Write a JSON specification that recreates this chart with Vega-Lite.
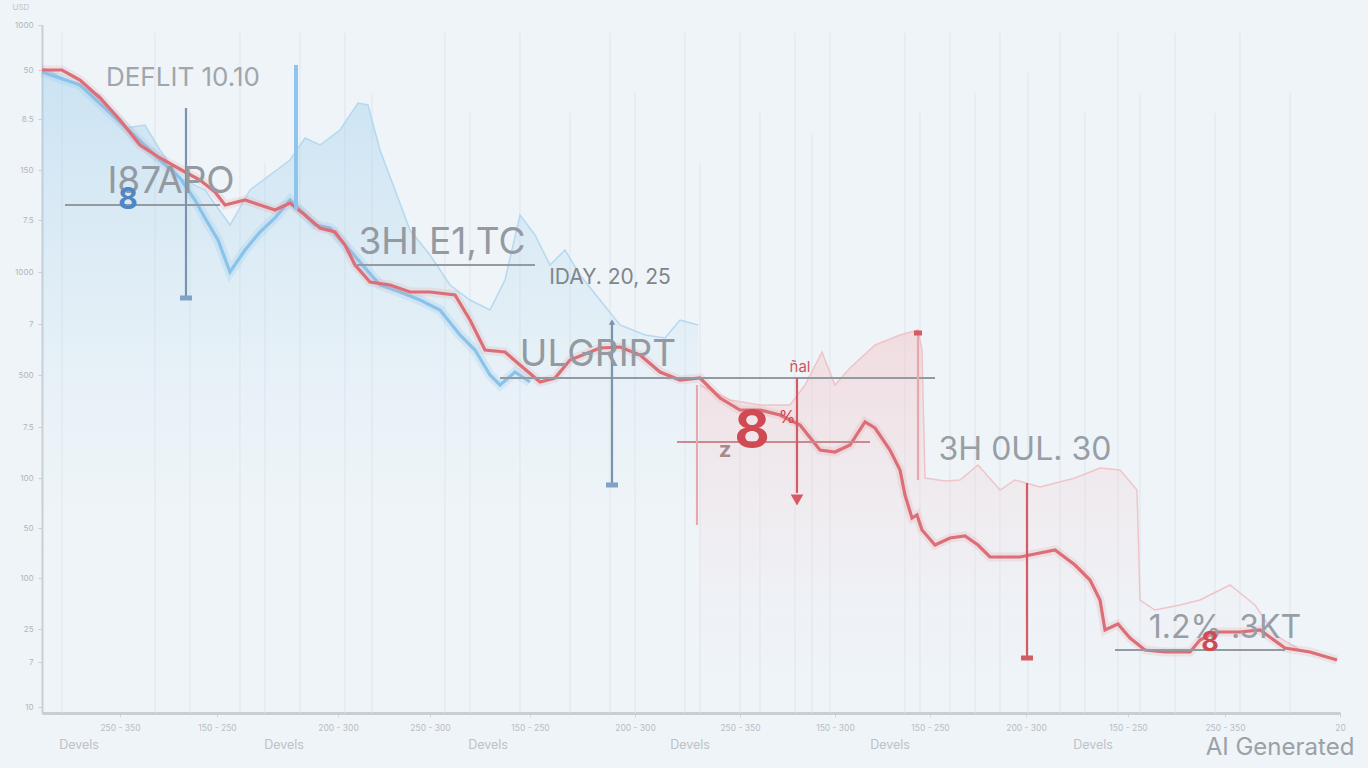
{
  "$schema": "https://vega.github.io/schema/vega-lite/v6.json",
  "width": 1298,
  "height": 688,
  "autosize": {"type": "none"},
  "padding": {"left": 42, "top": 25, "right": 28, "bottom": 55},
  "background": "#eef4f8",
  "config": {"view": {"stroke": null}, "font": "Inter"},
  "datasets": {
    "red": [
      {"x":0,"y":64.3},{"x":2,"y":64.3},{"x":3.8,"y":63.3},{"x":5.8,"y":61.5},{"x":7.8,"y":59.3},{"x":9.8,"y":56.8},{"x":11.8,"y":55.5},{"x":14.3,"y":54.1},{"x":15.8,"y":53.3},{"x":17.3,"y":52.1},{"x":18.3,"y":50.8},{"x":20.3,"y":51.3},{"x":21.8,"y":50.8},{"x":23.3,"y":50.3},{"x":24.8,"y":51},{"x":26.3,"y":49.8},{"x":27.8,"y":48.5},{"x":29.3,"y":48.1},{"x":30.3,"y":46.8},{"x":31.3,"y":44.8},{"x":32.8,"y":43.1},{"x":34.8,"y":42.8},{"x":36.8,"y":42.1},{"x":38.8,"y":42.1},{"x":41.3,"y":41.8},{"x":42.8,"y":39.3},{"x":44.3,"y":36.3},{"x":46.3,"y":36.1},{"x":47.8,"y":34.8},{"x":49.8,"y":33.1},{"x":51.3,"y":33.5},{"x":52.8,"y":35.3},{"x":55.8,"y":36.5},{"x":57.8,"y":36.6},{"x":59.8,"y":35.8},{"x":61.8,"y":34.1},{"x":63.8,"y":33.3},{"x":65.8,"y":33.5},{"x":67.8,"y":31.5},{"x":69.8,"y":30.3},{"x":71.8,"y":30.3},{"x":73.8,"y":29.8},{"x":75.8,"y":28.8},{"x":77.8,"y":26.3},{"x":79.3,"y":26.1},{"x":80.8,"y":26.8},{"x":82.3,"y":29.1},{"x":83.3,"y":28.5},{"x":84.8,"y":26.3},{"x":85.8,"y":24.3},{"x":86.3,"y":21.8},{"x":87,"y":19.5},{"x":87.5,"y":19.8},{"x":88,"y":18.3},{"x":89.3,"y":16.8},{"x":90.8,"y":17.5},{"x":92.3,"y":17.7},{"x":93.6,"y":16.8},{"x":94.8,"y":15.6},{"x":97.8,"y":15.6},{"x":101.3,"y":16.3},{"x":103.3,"y":14.8},{"x":104.8,"y":13.3},{"x":105.8,"y":11.3},{"x":106.3,"y":8.3},{"x":107.6,"y":8.9},{"x":108.8,"y":7.5},{"x":110.3,"y":6.3},{"x":112.3,"y":6.1},{"x":114.8,"y":6.1},{"x":115.8,"y":7.3},{"x":117.3,"y":8.1},{"x":119.8,"y":8.1},{"x":121.8,"y":8.3},{"x":124.3,"y":6.5},{"x":126.8,"y":6.1},{"x":129.5,"y":5.3}
    ],
    "blue": [
      {"x":0,"y":64.1},{"x":3.8,"y":62.8},{"x":7.8,"y":59.1},{"x":11.8,"y":55.3},{"x":13.8,"y":53.5},{"x":15.3,"y":51.3},{"x":16.3,"y":49.5},{"x":17.6,"y":47.3},{"x":18.8,"y":44.1},{"x":20.3,"y":46.3},{"x":21.8,"y":48.1},{"x":23.3,"y":49.5},{"x":24.8,"y":51.3},{"x":25.8,"y":50.3},{"x":27.3,"y":48.8},{"x":28.8,"y":48.5},{"x":30.3,"y":46.8},{"x":31.8,"y":45.1},{"x":33.8,"y":42.8},{"x":35.8,"y":42.1},{"x":37.8,"y":41.3},{"x":39.8,"y":40.3},{"x":41.8,"y":37.8},{"x":43.3,"y":36.3},{"x":44.8,"y":33.8},{"x":45.8,"y":32.8},{"x":47.3,"y":34.1},{"x":48.8,"y":33.1}
    ],
    "blueTop": [
      {"x":0,"y":64.5},{"x":5.8,"y":61.8},{"x":8.3,"y":58.5},{"x":10.3,"y":58.8},{"x":11.8,"y":56.3},{"x":13.8,"y":53.5},{"x":16.3,"y":52.3},{"x":18.8,"y":48.8},{"x":20.8,"y":52.3},{"x":22.8,"y":53.8},{"x":24.8,"y":55.3},{"x":26.3,"y":57.5},{"x":27.8,"y":56.8},{"x":29.8,"y":58.3},{"x":31.6,"y":61},{"x":32.6,"y":60.8},{"x":33.8,"y":56.3},{"x":35.3,"y":52.3},{"x":36.8,"y":48.3},{"x":38.8,"y":45.8},{"x":40.8,"y":42.8},{"x":42.8,"y":41.3},{"x":44.8,"y":40.3},{"x":46.3,"y":43.3},{"x":47.8,"y":49.8},{"x":49.3,"y":47.8},{"x":50.8,"y":44.8},{"x":52.3,"y":46.3},{"x":53.8,"y":43.8},{"x":55.8,"y":41.3},{"x":57.8,"y":38.8},{"x":60.3,"y":37.8},{"x":62.3,"y":37.5},{"x":63.8,"y":39.3},{"x":65.6,"y":38.8}
    ],
    "pinkTop": [
      {"x":65.8,"y":32.8},{"x":68.8,"y":31.3},{"x":71.8,"y":30.8},{"x":74.8,"y":30.8},{"x":76.3,"y":32.8},{"x":78,"y":36.1},{"x":79.3,"y":32.8},{"x":80.8,"y":34.5},{"x":83.3,"y":36.8},{"x":85.8,"y":37.8},{"x":87.6,"y":38.3},{"x":88,"y":36.3},{"x":88.3,"y":23.5},{"x":90.3,"y":23.2},{"x":91.8,"y":23.3},{"x":93.6,"y":24.8},{"x":95.8,"y":22.3},{"x":97.3,"y":23.3},{"x":99.8,"y":22.6},{"x":103.3,"y":23.5},{"x":105.8,"y":24.5},{"x":107.8,"y":24.3},{"x":109.5,"y":22.3},{"x":109.8,"y":11.3},{"x":111.3,"y":10.3},{"x":113.8,"y":10.8},{"x":115.8,"y":11.3},{"x":118.8,"y":12.8},{"x":121.3,"y":10.8},{"x":123.3,"y":7.8},{"x":125.8,"y":6.3},{"x":129.5,"y":5.3}
    ],
    "grid": [
      {"x":2,"y":0,"y2":68},{"x":11.3,"y":0,"y2":68},{"x":14.8,"y":0,"y2":60},{"x":19.8,"y":0,"y2":68},{"x":22.3,"y":0,"y2":55},{"x":25.8,"y":0,"y2":68},{"x":30.3,"y":0,"y2":68},{"x":33,"y":0,"y2":62},{"x":40.3,"y":0,"y2":68},{"x":42.8,"y":0,"y2":60},{"x":47.8,"y":0,"y2":68},{"x":52.8,"y":0,"y2":60},{"x":56.8,"y":0,"y2":68},{"x":59.3,"y":0,"y2":62},{"x":64.3,"y":0,"y2":68},{"x":65.8,"y":0,"y2":55},{"x":69.8,"y":0,"y2":68},{"x":71.8,"y":0,"y2":60},{"x":75.3,"y":0,"y2":68},{"x":77,"y":0,"y2":58},{"x":78.8,"y":0,"y2":68},{"x":86.3,"y":0,"y2":68},{"x":87.8,"y":0,"y2":60},{"x":90.8,"y":0,"y2":68},{"x":93.3,"y":0,"y2":62},{"x":95.8,"y":0,"y2":68},{"x":98.6,"y":0,"y2":64},{"x":101.8,"y":0,"y2":68},{"x":104.3,"y":0,"y2":60},{"x":107.6,"y":0,"y2":68},{"x":109.8,"y":0,"y2":62},{"x":113.3,"y":0,"y2":68},{"x":117.3,"y":0,"y2":60},{"x":119.8,"y":0,"y2":68},{"x":124.8,"y":0,"y2":62}
    ],
    "hrules": [
      {"x":2.3,"x2":17.8,"y":50.8,"role":"gray"},
      {"x":31.3,"x2":49.3,"y":44.8,"role":"gray"},
      {"x":45.8,"x2":89.3,"y":33.5,"role":"gray"},
      {"x":63.5,"x2":82.8,"y":27.1,"role":"red"},
      {"x":107.3,"x2":124.3,"y":6.3,"role":"gray"}
    ],
    "vrules": [
      {"x":14.4,"y":41.5,"y2":60.5,"role":"bar-blue"},
      {"x":25.4,"y":50.3,"y2":64.8,"role":"spike"},
      {"x":57,"y":22.8,"y2":39.1,"role":"bar-blue"},
      {"x":75.5,"y":22.0,"y2":33.5,"role":"bar-red"},
      {"x":65.5,"y":18.8,"y2":32.8,"role":"faint-red"},
      {"x":87.6,"y":23.3,"y2":38.3,"role":"faint-red"},
      {"x":98.5,"y":5.5,"y2":23.0,"role":"bar-red"}
    ],
    "caps": [
      {"x":13.8,"x2":15.0,"y":41.5,"role":"bar-blue"},
      {"x":56.4,"x2":57.6,"y":22.8,"role":"bar-blue"},
      {"x":97.9,"x2":99.1,"y":5.5,"role":"bar-red"},
      {"x":87.2,"x2":88.0,"y":38.0,"role":"bar-red"}
    ],
    "arrows": [
      {"x":75.5,"y":21.3,"role":"down"},
      {"x":57,"y":39.1,"role":"up"}
    ],
    "labels": [
      {"x":14.1,"y":63.5,"label":"DEFLIT 10.10","role":"caption"},
      {"x":12.9,"y":53.1,"label":"I87APO","role":"headline-l"},
      {"x":40.0,"y":47.0,"label":"3HI E1,TC","role":"headline-l"},
      {"x":56.8,"y":43.5,"label":"IDAY. 20, 25","role":"note"},
      {"x":55.6,"y":35.8,"label":"ULGRIPT","role":"headline-l"},
      {"x":74.5,"y":29.5,"label":"%","role":"pct"},
      {"x":68.3,"y":26.3,"label":"z","role":"z"},
      {"x":75.8,"y":34.6,"label":"ñal","role":"small"},
      {"x":98.3,"y":26.3,"label":"3H 0UL. 30","role":"headline"},
      {"x":118.3,"y":8.5,"label":"1.2% .3KT","role":"headline"},
      {"x":123.8,"y":-3.5,"label":"AI Generated","role":"watermark"},
      {"x":3.7,"y":-3.2,"label":"Devels","role":"axisnote"},
      {"x":24.2,"y":-3.2,"label":"Devels","role":"axisnote"},
      {"x":44.6,"y":-3.2,"label":"Devels","role":"axisnote"},
      {"x":64.8,"y":-3.2,"label":"Devels","role":"axisnote"},
      {"x":84.8,"y":-3.2,"label":"Devels","role":"axisnote"},
      {"x":105.1,"y":-3.2,"label":"Devels","role":"axisnote"},
      {"x":8.6,"y":51.3,"label":"8","role":"blue8"},
      {"x":71.0,"y":28.1,"label":"8","role":"bigvalue"},
      {"x":116.8,"y":7.0,"label":"8","role":"red8"}
    ]
  },
  "encoding": {
    "x": {"field": "x", "type": "quantitative",
      "scale": {"domain": [0, 129.8], "nice": false, "zero": false},
      "axis": {"title": null, "values": [7.8,17.5,29.6,38.8,48.8,59.3,69.8,79.3,88.8,98.4,108.6,118.3,129.8],
        "labelExpr": "['250 - 350','150 - 250','200 - 300','250 - 300','150 - 250','200 - 300','250 - 350','150 - 300','150 - 250','200 - 300','150 - 250','250 - 350','20'][indexof([7.8,17.5,29.6,38.8,48.8,59.3,69.8,79.3,88.8,98.4,108.6,118.3,129.8], datum.value)]",
        "grid": false, "domainColor": "#c8ced6", "domainWidth": 3, "tickColor": "#d0d5db", "tickSize": 4,
        "labelColor": "#b8bec5", "labelFontSize": 8.5, "labelPadding": 6, "labelFlush": false}},
    "y": {"field": "y", "type": "quantitative",
      "scale": {"domain": [0, 68.8], "nice": false, "zero": false},
      "axis": {"title": "USD", "titleAngle": 0, "titleAlign": "left", "titleX": -30, "titleY": -14, "titleFontSize": 8, "titleColor": "#c0c6cc", "titleFontWeight": "normal",
        "values": [68.8,64.3,59.4,54.3,49.3,44.1,38.9,33.8,28.6,23.5,18.5,13.5,8.4,5.1,0.6],
        "labelExpr": "['1000','50','8.5','150','7.5','1000','7','500','7.5','100','50','100','25','7','10'][indexof([68.8,64.3,59.4,54.3,49.3,44.1,38.9,33.8,28.6,23.5,18.5,13.5,8.4,5.1,0.6], datum.value)]",
        "grid": false, "domainColor": "#c8ced6", "domainWidth": 2, "tickColor": "#c8ced6", "tickSize": 4,
        "labelColor": "#b0b6bd", "labelFontSize": 8, "labelPadding": 5}}
  },
  "layer": [
    {"data": {"name": "grid"}, "mark": {"type": "rule", "color": "#dfe5ec", "strokeWidth": 1},
      "encoding": {"y2": {"field": "y2"}}},
    {"data": {"name": "blueTop"}, "mark": {"type": "area", "interpolate": "linear",
      "color": {"gradient": "linear", "x1": 0, "y1": 0, "x2": 0, "y2": 1,
        "stops": [{"offset": 0, "color": "rgba(160,206,236,0.45)"}, {"offset": 0.4, "color": "rgba(175,214,238,0.18)"}, {"offset": 0.75, "color": "rgba(235,243,248,0)"}]}}},
    {"data": {"name": "pinkTop"}, "mark": {"type": "area", "interpolate": "linear",
      "color": {"gradient": "linear", "x1": 0, "y1": 0, "x2": 0, "y2": 1,
        "stops": [{"offset": 0, "color": "rgba(243,196,200,0.5)"}, {"offset": 0.55, "color": "rgba(244,214,217,0.2)"}, {"offset": 1, "color": "rgba(240,240,244,0)"}]}}},
    {"data": {"name": "blueTop"}, "mark": {"type": "line", "color": "#afd6ef", "strokeWidth": 1.5, "opacity": 0.9}},
    {"data": {"name": "pinkTop"}, "mark": {"type": "line", "color": "#f0c0c4", "strokeWidth": 1.5, "opacity": 0.9}},
    {"data": {"name": "blue"}, "mark": {"type": "line", "color": "#8cc6ec", "strokeWidth": 10, "opacity": 0.22}},
    {"data": {"name": "blue"}, "mark": {"type": "line", "color": "#8ac3ea", "strokeWidth": 3.2}},
    {"data": {"name": "red"}, "mark": {"type": "line", "color": "#e0959b", "strokeWidth": 9, "opacity": 0.18}},
    {"data": {"name": "red"}, "mark": {"type": "line", "color": "#dc6e77", "strokeWidth": 3.2}},
    {"data": {"name": "hrules"}, "mark": {"type": "rule", "strokeWidth": 2},
      "encoding": {"x2": {"field": "x2"},
        "color": {"field": "role", "type": "nominal", "legend": null, "scale": {"domain": ["gray", "red"], "range": ["#939aa2", "#c98a8f"]}}}},
    {"data": {"name": "vrules"}, "transform": [{"filter": "datum.role == 'spike'"}], "mark": {"type": "rule", "color": "#8ec5ec", "strokeWidth": 4},
      "encoding": {"y2": {"field": "y2"}}},
    {"data": {"name": "vrules"}, "transform": [{"filter": "datum.role != 'spike'"}], "mark": {"type": "rule", "strokeWidth": 2.2},
      "encoding": {"y2": {"field": "y2"},
        "color": {"field": "role", "type": "nominal", "legend": null, "scale": {"domain": ["bar-blue", "bar-red", "faint-red"], "range": ["#7b93ae", "#d65a63", "#e7a8ad"]}}}},
    {"data": {"name": "caps"}, "mark": {"type": "rule", "strokeWidth": 5},
      "encoding": {"x2": {"field": "x2"},
        "color": {"field": "role", "type": "nominal", "legend": null, "scale": {"domain": ["bar-blue", "bar-red"], "range": ["#7fa3c8", "#d65a63"]}}}},
    {"data": {"name": "arrows"}, "transform": [{"filter": "datum.role == 'down'"}], "mark": {"type": "point", "filled": true, "opacity": 1, "shape": "triangle-down", "color": "#d65a63", "size": 160}},
    {"data": {"name": "arrows"}, "transform": [{"filter": "datum.role == 'up'"}], "mark": {"type": "point", "filled": true, "opacity": 1, "shape": "triangle-up", "color": "#7b93ae", "size": 40}},
    {"data": {"name": "labels"}, "transform": [{"filter": "datum.role == 'headline-l'"}], "mark": {"type": "text", "fontSize": 37, "color": "#939aa1"}, "encoding": {"text": {"field": "label"}}},
    {"data": {"name": "labels"}, "transform": [{"filter": "datum.role == 'headline'"}], "mark": {"type": "text", "fontSize": 32, "color": "#989ea5"}, "encoding": {"text": {"field": "label"}}},
    {"data": {"name": "labels"}, "transform": [{"filter": "datum.role == 'caption'"}], "mark": {"type": "text", "fontSize": 26, "color": "#a0a6ac"}, "encoding": {"text": {"field": "label"}}},
    {"data": {"name": "labels"}, "transform": [{"filter": "datum.role == 'note'"}], "mark": {"type": "text", "fontSize": 21, "color": "#7f858b"}, "encoding": {"text": {"field": "label"}}},
    {"data": {"name": "labels"}, "transform": [{"filter": "datum.role == 'pct'"}], "mark": {"type": "text", "fontSize": 17, "color": "#cf4a53"}, "encoding": {"text": {"field": "label"}}},
    {"data": {"name": "labels"}, "transform": [{"filter": "datum.role == 'z'"}], "mark": {"type": "text", "fontSize": 22, "fontWeight": "bold", "color": "#a58b8e"}, "encoding": {"text": {"field": "label"}}},
    {"data": {"name": "labels"}, "transform": [{"filter": "datum.role == 'small'"}], "mark": {"type": "text", "fontSize": 15, "color": "#d0545c"}, "encoding": {"text": {"field": "label"}}},
    {"data": {"name": "labels"}, "transform": [{"filter": "datum.role == 'watermark'"}], "mark": {"type": "text", "fontSize": 24, "color": "#9ba1a7", "clip": false}, "encoding": {"text": {"field": "label"}}},
    {"data": {"name": "labels"}, "transform": [{"filter": "datum.role == 'axisnote'"}], "mark": {"type": "text", "fontSize": 12.5, "color": "#bcc2c8", "clip": false}, "encoding": {"text": {"field": "label"}}},
    {"data": {"name": "labels"}, "transform": [{"filter": "datum.role == 'blue8'"}], "mark": {"type": "text", "fontSize": 30, "fontWeight": "bold", "color": "#4f86c6"}, "encoding": {"text": {"field": "label"}}},
    {"data": {"name": "labels"}, "transform": [{"filter": "datum.role == 'bigvalue'"}], "mark": {"type": "text", "fontSize": 54, "fontWeight": "bold", "color": "#cf4a53"}, "encoding": {"text": {"field": "label"}}},
    {"data": {"name": "labels"}, "transform": [{"filter": "datum.role == 'red8'"}], "mark": {"type": "text", "fontSize": 27, "fontWeight": "bold", "color": "#cf4a53"}, "encoding": {"text": {"field": "label"}}}
  ],
  "resolve": {"scale": {"color": "independent"}}
}
